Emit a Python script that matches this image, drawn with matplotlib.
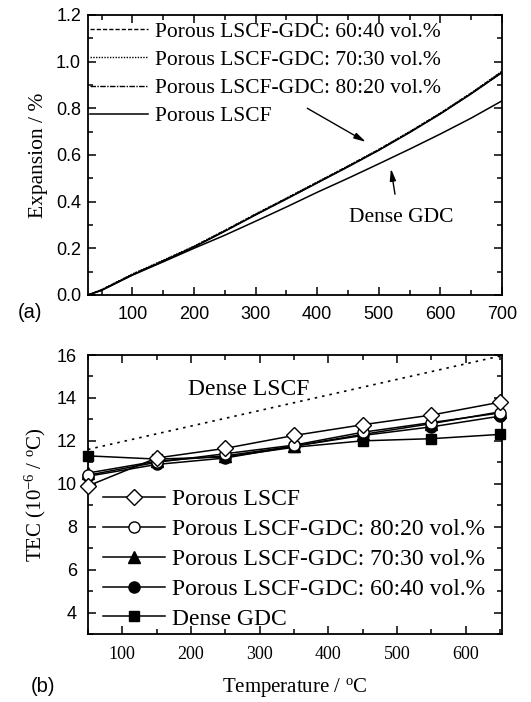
import matplotlib
matplotlib.use('Agg')
from matplotlib import pyplot as plt
from matplotlib.ticker import MultipleLocator

# ---- panel (a): dilatometry curves ----
temp_a = [28, 50, 100, 150, 200, 250, 300, 350, 400, 450, 500, 550, 600, 650, 700]
exp_6040 = [0, 0.022, 0.088, 0.147, 0.208, 0.276, 0.346, 0.414, 0.483, 0.552, 0.623, 0.699, 0.779, 0.865, 0.957]
exp_7030 = [0, 0.023, 0.090, 0.149, 0.209, 0.277, 0.347, 0.415, 0.484, 0.553, 0.624, 0.700, 0.780, 0.866, 0.959]
exp_8020 = [0, 0.021, 0.087, 0.146, 0.206, 0.274, 0.344, 0.412, 0.481, 0.550, 0.621, 0.697, 0.777, 0.863, 0.954]
exp_lscf = [0, 0.020, 0.086, 0.145, 0.205, 0.273, 0.343, 0.411, 0.480, 0.549, 0.620, 0.696, 0.776, 0.862, 0.953]
exp_gdc = [0, 0.020, 0.085, 0.142, 0.200, 0.256, 0.316, 0.377, 0.440, 0.500, 0.562, 0.625, 0.690, 0.758, 0.832]

# ---- panel (b): TEC values ----
temp_b = [50, 150, 250, 350, 450, 550, 650]
tec_lscf = [9.9, 11.2, 11.65, 12.25, 12.75, 13.2, 13.8]
tec_8020 = [10.4, 11.0, 11.4, 11.8, 12.4, 12.85, 13.3]
tec_7030 = [10.5, 11.05, 11.3, 11.75, 12.3, 12.8, 13.35]
tec_6040 = [10.35, 10.9, 11.2, 11.75, 12.25, 12.65, 13.15]
tec_gdc = [11.3, 11.15, 11.25, 11.7, 12.0, 12.1, 12.3]
dense_lscf_t = [50, 650]
dense_lscf_tec = [11.6, 15.95]

plt.rcParams['font.family'] = 'Liberation Sans'
plt.rcParams['mathtext.fontset'] = 'custom'
plt.rcParams['mathtext.rm'] = 'Liberation Serif'
plt.rcParams['mathtext.it'] = 'Liberation Serif:italic'

SERIF = 'Liberation Serif'

fig = plt.figure(figsize=(5.31, 7.02), dpi=100)
ax1 = fig.add_axes([0.1657, 0.5798, 0.7797, 0.3989])
ax2 = fig.add_axes([0.1657, 0.0969, 0.7797, 0.3974])


def style(ax):
    ax.tick_params(which='both', direction='in', top=True, right=True, width=1.1)
    ax.tick_params(which='major', length=6)
    ax.tick_params(which='minor', length=3.5)
    for s in ax.spines.values():
        s.set_linewidth(1.3)


# panel (a)
ax1.plot(temp_a, exp_6040, color='k', lw=1.0, ls=(0, (3, 1.5)), label='Porous LSCF-GDC: 60:40 vol.%')
ax1.plot(temp_a, exp_7030, color='k', lw=1.0, ls=(0, (1, 1)), label='Porous LSCF-GDC: 70:30 vol.%')
ax1.plot(temp_a, exp_8020, color='k', lw=1.0, ls=(0, (4, 1, 1, 1)), label='Porous LSCF-GDC: 80:20 vol.%')
ax1.plot(temp_a, exp_lscf, color='k', lw=1.1, ls='-', label='Porous LSCF')
ax1.plot(temp_a, exp_gdc, color='k', lw=1.1, ls='-')

ax1.set_xlim(28, 700)
ax1.set_ylim(0, 1.2)
ax1.set_xticks([100, 200, 300, 400, 500, 600, 700])
ax1.xaxis.set_minor_locator(MultipleLocator(50))
ax1.yaxis.set_major_locator(MultipleLocator(0.2))
ax1.yaxis.set_minor_locator(MultipleLocator(0.1))
ax1.yaxis.set_major_formatter(plt.FormatStrFormatter('%.1f'))
style(ax1)
ax1.tick_params(axis='x', labelsize=13, pad=8)
ax1.tick_params(axis='y', labelsize=13, pad=5)
ax1.set_ylabel('Expansion / %', fontfamily=SERIF, fontsize=15.5, labelpad=6)

leg1 = ax1.legend(loc='upper left', bbox_to_anchor=(0.005, 0.976), frameon=False,
                  prop={'family': SERIF, 'size': 15.5}, handlelength=2.7,
                  handletextpad=0.3, labelspacing=0.38, borderpad=0, borderaxespad=0)

ax1.annotate('', xy=(483, 0.65), xytext=(380, 0.806),
             arrowprops=dict(arrowstyle='-|>,head_length=0.7,head_width=0.18', color='k', lw=1.0))
ax1.annotate('', xy=(519, 0.553), xytext=(527, 0.42),
             arrowprops=dict(arrowstyle='-|>,head_length=0.7,head_width=0.18', color='k', lw=1.0))
ax1.text(537, 0.33, 'Dense GDC', fontfamily=SERIF, fontsize=15.5, ha='center', va='center')

fig.text(30 / 531, 1 - 313 / 702, '(a)', fontsize=14.5, ha='center', va='center')

# panel (b)
ax2.plot(dense_lscf_t, dense_lscf_tec, color='k', lw=1.2, ls=(0, (1.5, 3)))
ax2.plot(temp_b, tec_lscf, color='k', lw=1.1, marker='D', ms=8, mfc='white', mec='k',
         mew=1.0, label='Porous LSCF', clip_on=False, zorder=5)
ax2.plot(temp_b, tec_8020, color='k', lw=1.1, marker='o', ms=8, mfc='white', mec='k',
         mew=1.0, label='Porous LSCF-GDC: 80:20 vol.%', clip_on=False, zorder=4)
ax2.plot(temp_b, tec_7030, color='k', lw=1.1, marker='^', ms=8, mfc='k', mec='k',
         label='Porous LSCF-GDC: 70:30 vol.%', clip_on=False, zorder=3)
ax2.plot(temp_b, tec_6040, color='k', lw=1.1, marker='o', ms=8, mfc='k', mec='k',
         label='Porous LSCF-GDC: 60:40 vol.%', clip_on=False, zorder=3)
ax2.plot(temp_b, tec_gdc, color='k', lw=1.1, marker='s', ms=6.5, mfc='k', mec='k',
         label='Dense GDC', clip_on=False, zorder=3)

ax2.set_xlim(50, 653)
ax2.set_ylim(3, 16)
ax2.set_xticks([100, 200, 300, 400, 500, 600])
ax2.xaxis.set_minor_locator(MultipleLocator(50))
ax2.set_yticks([4, 6, 8, 10, 12, 14, 16])
ax2.yaxis.set_minor_locator(MultipleLocator(1))
style(ax2)
ax2.tick_params(axis='x', labelsize=13, pad=9, labelfontfamily=SERIF)
ax2.tick_params(axis='y', labelsize=13, pad=8)
ax2.set_xlabel(r'Temperature / $^{\mathrm{o}}$C', fontfamily=SERIF, fontsize=15, labelpad=9)
ax2.set_ylabel(r'TEC (10$^{\mathrm{-6}}$ / $^{\mathrm{o}}$C)', fontfamily=SERIF, fontsize=15, labelpad=6)

ax2.text(284, 14.37, 'Dense LSCF', fontfamily=SERIF, fontsize=17, ha='center', va='center')

leg2 = ax2.legend(loc='upper left', bbox_to_anchor=(0.0355, 0.52), frameon=False,
                  prop={'family': SERIF, 'size': 17}, handlelength=2.65,
                  handletextpad=0.3, labelspacing=0.35, borderpad=0, borderaxespad=0)

fig.text(43 / 531, 1 - 686 / 702, '(b)', fontsize=14.5, ha='center', va='center')

fig.savefig('out.png', dpi=100)
